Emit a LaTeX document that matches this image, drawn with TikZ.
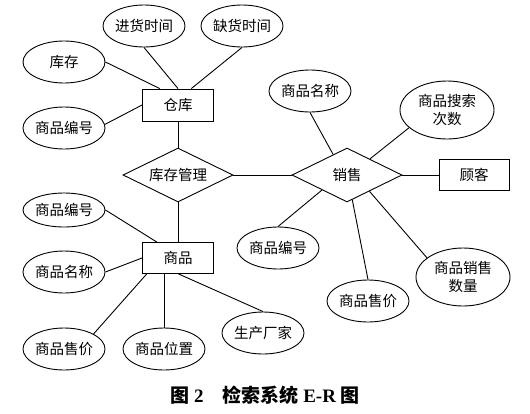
\documentclass[tikz,border=0pt]{standalone}
\usepackage{fontspec}
\setmainfont{Liberation Serif}
\newfontfamily\cjk{Noto Sans CJK SC}
\usetikzlibrary{shapes.geometric}
\begin{document}
\begin{tikzpicture}[x=1pt,y=-1pt,line width=0.9pt,
  attr/.style={draw,ellipse,inner sep=0pt,minimum width=#1*2pt,font=\cjk\fontsize{14.5}{18}\selectfont,align=center},
  attr/.default=41,
  ent/.style={draw,rectangle,inner sep=0pt,minimum width=71pt,minimum height=31pt,font=\cjk\fontsize{14.5}{18}\selectfont},
  rel/.style={draw,diamond,aspect=2,inner sep=0pt,minimum width=110pt,minimum height=54pt,font=\cjk\fontsize{14.5}{18}\selectfont}]
\useasboundingbox (0,0) rectangle (530,413);
% entities and relations
\node[ent,minimum height=32pt] (ck) at (178,105) {仓库};
\node[rel] (kg) at (178,175) {库存管理};
\node[rel] (xs) at (347,175) {销售};
\node[ent,minimum width=70pt] (gk) at (474,175) {顾客};
\node[ent] (sp) at (178,258) {商品};
% attributes of 仓库
\node[attr,minimum height=42pt] (jh) at (144,26) {进货时间};
\node[attr=40,minimum height=42pt] (qh) at (242,26) {缺货时间};
\node[attr,minimum height=42pt] (kc) at (64,62) {库存};
\node[attr,minimum height=42pt] (bh1) at (64,128) {商品编号};
% attributes of 销售
\node[attr,minimum height=42pt] (mc2) at (310,91) {商品名称};
\node[attr=47,minimum height=58pt] (ss) at (447,110) {商品搜索\\次数};
\node[attr=40,minimum height=42pt] (bh3) at (278,248) {商品编号};
\node[attr,minimum height=42pt] (sj2) at (368,301) {商品售价};
\node[attr=47,minimum height=58pt] (xl) at (463,277) {商品销售\\数量};
% attributes of 商品
\node[attr,minimum height=34pt] (bh2) at (64,210) {商品编号};
\node[attr,minimum height=42pt] (mc1) at (64,272) {商品名称};
\node[attr,minimum height=42pt] (sj1) at (64,349) {商品售价};
\node[attr=40,minimum height=42pt] (wz) at (164,349) {商品位置};
\node[attr=40,minimum height=42pt] (cj) at (263,333) {生产厂家};
% connectors
\draw (jh.south) -- (ck.north);
\draw (qh.south) -- (ck.51);
\draw (kc.east) -- (ck.138);
\draw (bh1.5) -- (ck.west);
\draw (ck.south) -- (kg.north);
\draw (kg.east) -- (xs.west);
\draw (kg.south) -- (sp.north);
\draw (mc2.south) -- (xs.124);
\draw (ss.205) -- (xs.35);
\draw (xs.east) -- (gk.west);
\draw (bh3.north) -- (xs.211);
\draw (sj2.north) -- (xs.-78);
\draw (xl.152) -- (xs.-36);
\draw (bh2.east) -- (sp.143);
\draw (mc1.east) -- (sp.west);
\draw (sj1.27) -- (sp.207);
\draw (wz.north) -- (wz.north |- sp.south);
\draw (cj.north) -- (sp.-88);
% caption
\node[font=\bfseries\fontsize{19}{21}\selectfont,inner sep=0pt] (cap) at (265,395)
  {{\cjk\bfseries 图}~2\hspace{1em}{\cjk\bfseries 检索系统}~E-R~{\cjk\bfseries 图}};
\end{tikzpicture}
\end{document}
